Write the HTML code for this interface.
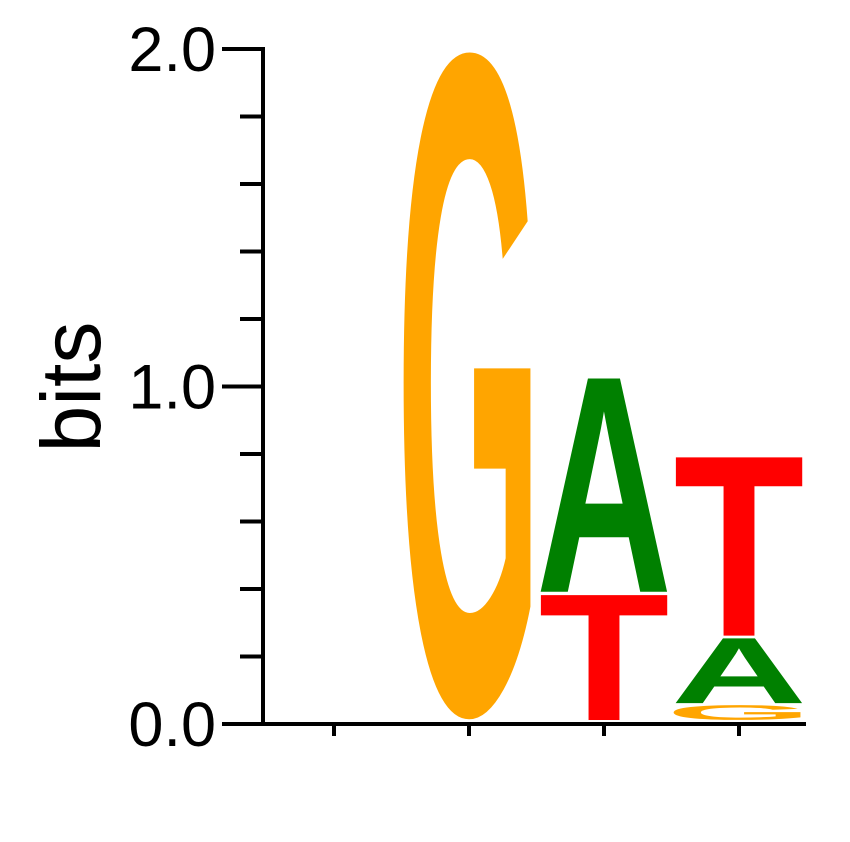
<!DOCTYPE html>
<html><head><meta charset="utf-8"><style>
html,body{margin:0;padding:0;background:#fff;width:850px;height:842px;overflow:hidden;}
svg{display:block;font-family:"Liberation Sans",sans-serif;overflow:hidden;}
</style></head><body>
<svg id="chart" width="850" height="842" viewBox="0 0 850 842">
<g id="axes"></g>
<g id="letters"></g>
<text transform="translate(100,387) rotate(-90)" text-anchor="middle" font-size="84" fill="#000">bits</text>
</svg>
<script>
const positions = [1, 2, 3, 4];
const col1Letters = [];
const col1Heights = [];
const col2Letters = ["G"];
const col2Heights = [1.99];
const col3Letters = ["T", "A"];
const col3Heights = [0.38, 0.645];
const col4Letters = ["G", "A", "T"];
const col4Heights = [0.05, 0.2, 0.54];
const yTicks = [0, 0.2, 0.4, 0.6, 0.8, 1.0, 1.2, 1.4, 1.6, 1.8, 2.0];
const yLabels = ["0.0", "1.0", "2.0"];

const NS = "http://www.w3.org/2000/svg";
const x0 = 263, x1 = 806, y0 = 724, yTop = 49;
const colW = 135;
const yScale = v => y0 - (v / 2.0) * (y0 - yTop);
const xCenter = p => 334 + (p - 1) * colW;
const colors = {G: "#ffa500", A: "#008000", T: "#ff0000", C: "#0000ff"};
const wFactor = {G: 1.16, A: 1.08, T: 1.04, C: 1.16};
const capH = {G: 71.1, A: 69.6, T: 69.6, C: 71.1};
const overshoot = {G: 1.05, A: 0, T: 0, C: 1.05};
const axes = document.getElementById("axes");
const letters = document.getElementById("letters");

function line(xa, ya, xb, yb, name) {
  const l = document.createElementNS(NS, "line");
  l.setAttribute("x1", xa); l.setAttribute("y1", ya);
  l.setAttribute("x2", xb); l.setAttribute("y2", yb);
  l.setAttribute("stroke", "#000"); l.setAttribute("stroke-width", "4");
  
  
  axes.appendChild(l);
}
line(x0, yTop - 2, x0, y0 + 2, "y-axis-line");
line(x0 - 2, y0, x1, y0, "x-axis-line");
yTicks.forEach(v => {
  const major = Math.abs(v - Math.round(v)) < 1e-6;
  line(major ? 222 : 240, yScale(v), x0, yScale(v), major ? "y-major-tick" : "y-minor-tick");
});
yLabels.forEach(s => {
  const t = document.createElementNS(NS, "text");
  t.setAttribute("x", 216); t.setAttribute("y", yScale(parseFloat(s)) + 22);
  t.setAttribute("text-anchor", "end"); t.setAttribute("font-size", "63");
  t.textContent = s;
  
  
  axes.appendChild(t);
});
positions.forEach(p => line(xCenter(p), y0, xCenter(p), y0 + 12, "x-tick"));

const cols = [[col1Letters, col1Heights], [col2Letters, col2Heights], [col3Letters, col3Heights], [col4Letters, col4Heights]];
cols.forEach((c, i) => {
  const p = positions[i];
  let base = 0.012;
  c[0].forEach((L, j) => {
    const h = c[1][j];
    const yb = yScale(base), yt = yScale(base + h);
    const hp = yb - yt - 2;
    const w = 126 * wFactor[L];
    const sy = hp / capH[L];
    const t = document.createElementNS(NS, "text");
    t.setAttribute("x", 0); t.setAttribute("y", 0);
    t.setAttribute("font-size", "100"); t.setAttribute("font-weight", "bold");
    t.setAttribute("textLength", "100"); t.setAttribute("lengthAdjust", "spacingAndGlyphs");
    t.setAttribute("fill", colors[L]);
    t.setAttribute("transform", `translate(${xCenter(p) - w / 2},${yb - overshoot[L] * sy}) scale(${w / 100},${sy})`);
    t.textContent = L;
    
    
    letters.appendChild(t);
    base += h;
  });
});
</script>
</body></html>
